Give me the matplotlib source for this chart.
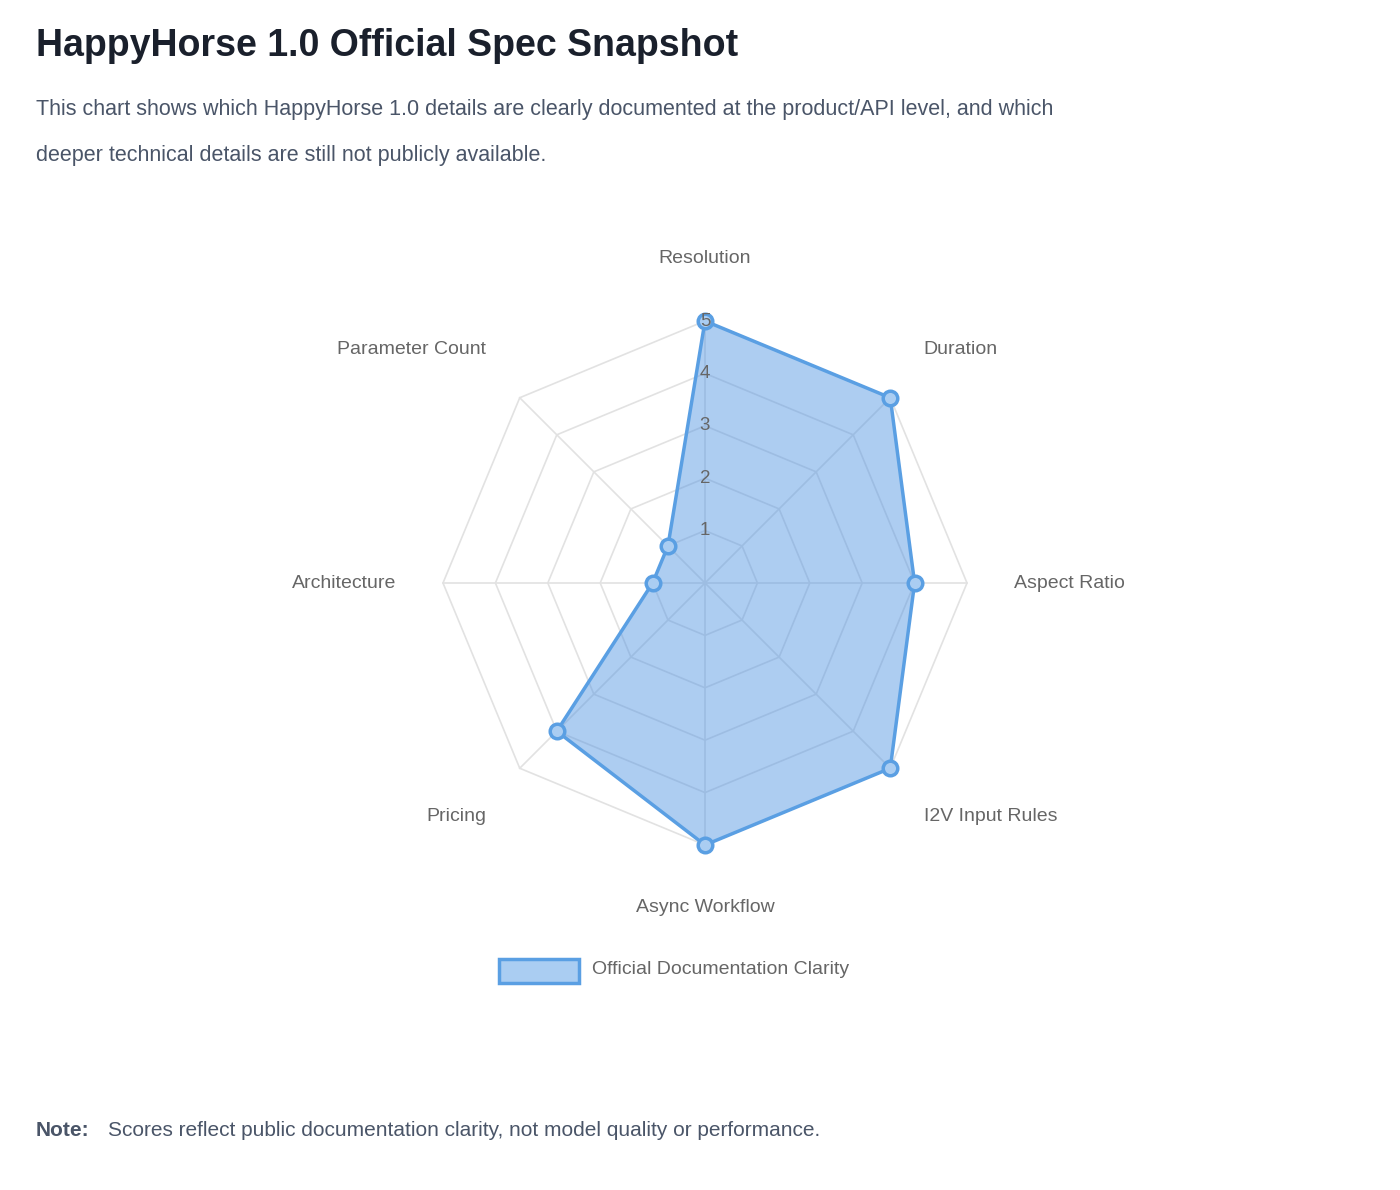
import matplotlib.pyplot as plt
import numpy as np
from matplotlib.patches import Rectangle

plt.rcParams['font.family'] = ['Liberation Sans', 'DejaVu Sans']

categories = ['Resolution', 'Duration', 'Aspect Ratio', 'I2V Input Rules',
              'Async Workflow', 'Pricing', 'Architecture', 'Parameter Count']
scores = [5, 5, 4, 5, 5, 4, 1, 1]
rings = [1, 2, 3, 4, 5]

W, H = 1400, 1190
fig = plt.figure(figsize=(14, 11.9), dpi=100)

# axes placed so the radar centre sits at pixel (705, 583)
lim = 5 * 500 / 262
ax = fig.add_axes([205 / W, 1 - 1083 / H, 1000 / W, 1000 / H])
ax.set_xlim(-lim, lim)
ax.set_ylim(-lim, lim)
ax.set_aspect('equal')
ax.axis('off')

n = len(categories)
ang = np.pi / 2 - np.arange(n) * 2 * np.pi / n
ca, sa = np.cos(ang), np.sin(ang)

for r in rings:
    ax.plot(np.append(r * ca, r * ca[0]), np.append(r * sa, r * sa[0]),
            color='#e2e2e2', lw=1.2, zorder=1)
for c, s in zip(ca, sa):
    ax.plot([0, 5 * c], [0, 5 * s], color='#e2e2e2', lw=1.2, zorder=1)

v = np.array(scores, dtype=float)
xs, ys = v * ca, v * sa
ax.fill(xs, ys, color='#4a90e2', alpha=0.45, lw=0, zorder=2)
ax.plot(np.append(xs, xs[0]), np.append(ys, ys[0]), color='#5a9fe3', lw=2.5, zorder=3)
ax.scatter(xs, ys, s=110, facecolor='#aacdf2', edgecolor='#5a9fe3', lw=2.5, zorder=4)

for r in rings:
    ax.text(0, r, str(r), ha='center', va='center', fontsize=13.5,
            color='#666666', zorder=5)

for lab, c, s in zip(categories, ca, sa):
    if abs(c) < 0.1:
        ax.text(0, 6.2 * np.sign(s), lab, ha='center', va='center',
                fontsize=14, color='#666666')
    else:
        yk = 6.3 if abs(s) > 0.1 else 5.9
        ax.text(5.9 * c, yk * s, lab, ha='left' if c > 0 else 'right',
                va='center', fontsize=14, color='#666666')

fig.text(36 / W, 1 - 46 / H, 'HappyHorse 1.0 Official Spec Snapshot',
         fontsize=27, fontweight='bold', color='#1a202c', va='center')
fig.text(36 / W, 1 - 109 / H,
         'This chart shows which HappyHorse 1.0 details are clearly documented at the product/API level, and which',
         fontsize=15.5, color='#4a5568', va='center')
fig.text(36 / W, 1 - 155 / H,
         'deeper technical details are still not publicly available.',
         fontsize=15.5, color='#4a5568', va='center')

fig.patches.append(Rectangle((499 / W, 1 - 983 / H), 80 / W, 24 / H,
                             transform=fig.transFigure, facecolor='#aacdf2',
                             edgecolor='#5a9fe3', lw=2.5))
fig.text(592 / W, 1 - 970 / H, 'Official Documentation Clarity',
         fontsize=14, color='#666666', va='center')

fig.text(36 / W, 1 - 1130 / H, 'Note:', fontsize=15, fontweight='bold',
         color='#4a5568', va='center')
fig.text(108 / W, 1 - 1130 / H,
         'Scores reflect public documentation clarity, not model quality or performance.',
         fontsize=15, color='#4a5568', va='center')

fig.savefig('out.png', dpi=100, facecolor='white')
